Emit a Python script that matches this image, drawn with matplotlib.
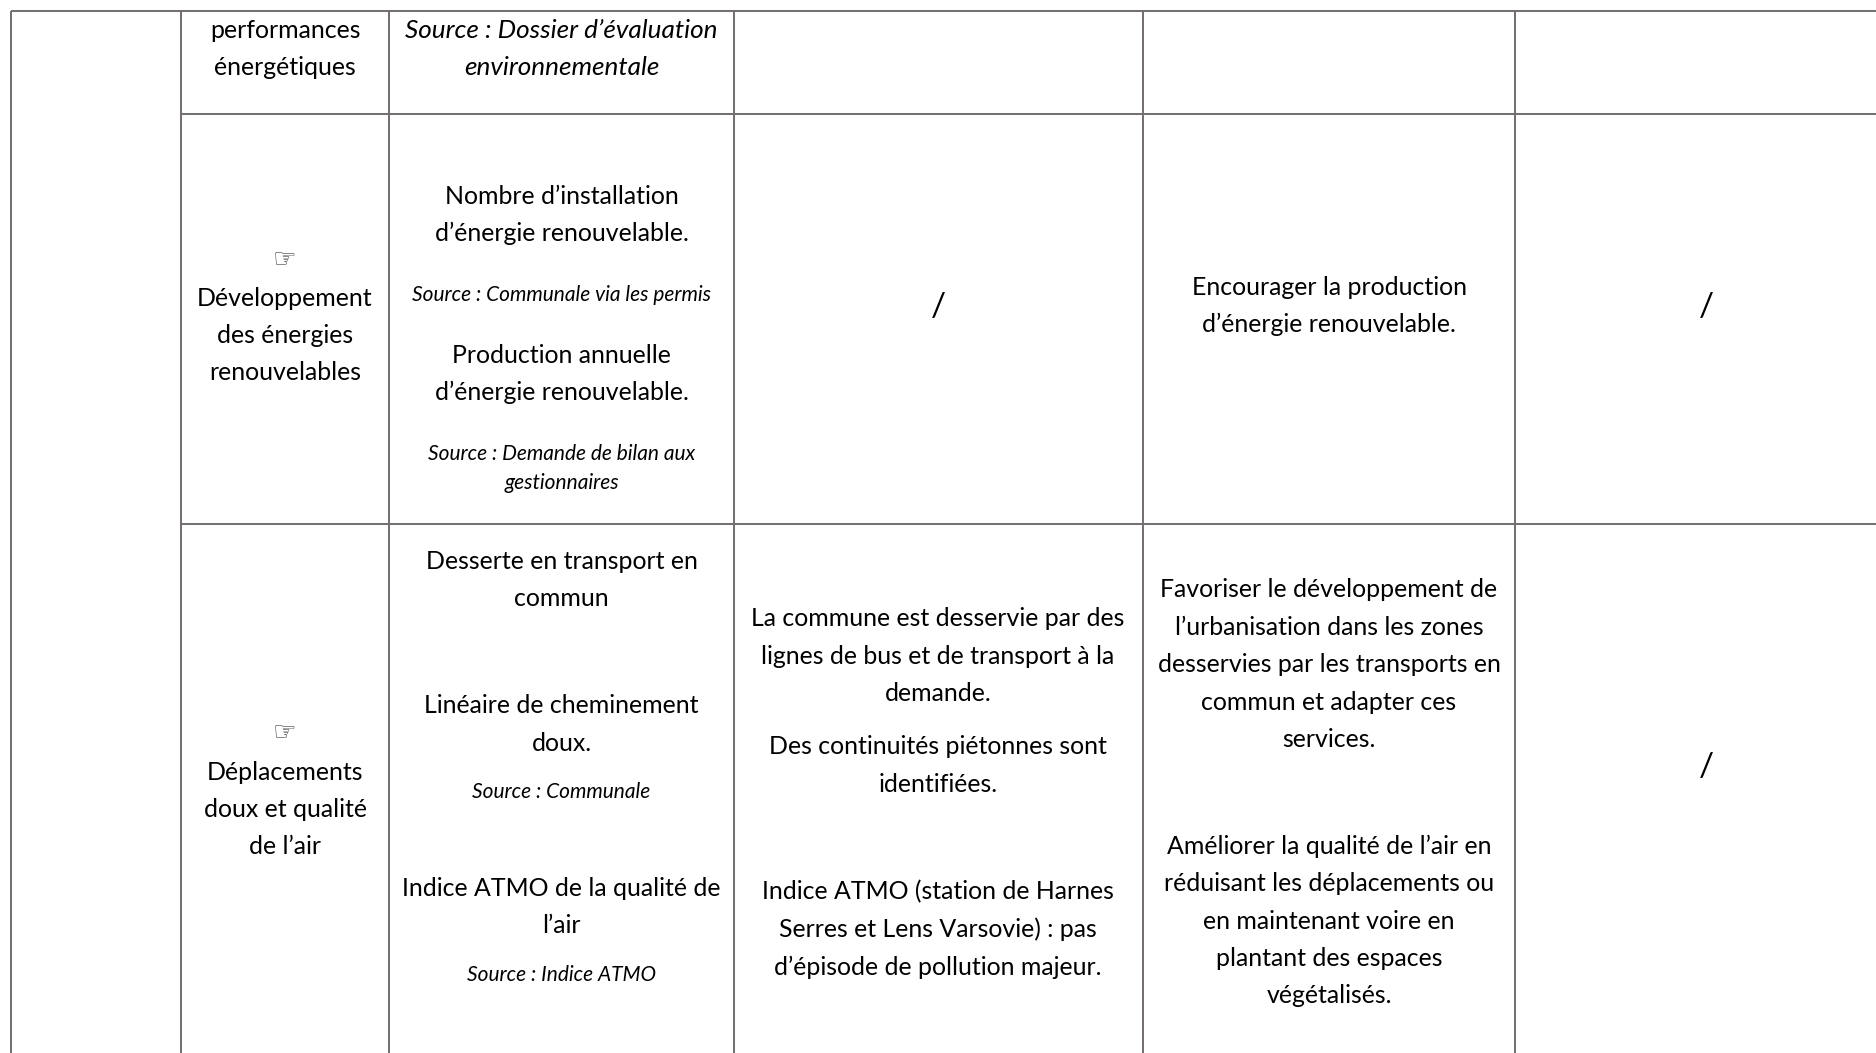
import matplotlib
matplotlib.use("Agg")
import matplotlib.pyplot as plt

W, H = 1876, 1053
S = 1876 / 1568  # shrunk reading -> full-size pixels

col_edges = [11, 181, 389, 734, 1143, 1515]
row_edges = [11, 114, 524]
row_starts = [11, 181, 181]   # where each horizontal rule starts
col_centres = [285, 561.5, 938, 1329, 1706]
LINE = "#767171"

# (text, column index, y centre in 1568-wide reading)
regular = [
    ("performances", 0, 24), ("énergétiques", 0, 55),
    ("Développement", 0, 248), ("des énergies", 0, 279), ("renouvelables", 0, 310),
    ("Déplacements", 0, 644), ("doux et qualité", 0, 675), ("de l’air", 0, 706),
    ("Nombre d’installation", 1, 163), ("d’énergie renouvelable.", 1, 194),
    ("Production annuelle", 1, 296), ("d’énergie renouvelable.", 1, 327),
    ("Desserte en transport en", 1, 468), ("commun", 1, 499),
    ("Linéaire de cheminement", 1, 588), ("doux.", 1, 620),
    ("Indice ATMO de la qualité de", 1, 741), ("l’air", 1, 772),
    ("La commune est desservie par des", 2, 516), ("lignes de bus et de transport à la", 2, 547),
    ("demande.", 2, 578), ("Des continuités piétonnes sont", 2, 623), ("identifiées.", 2, 654),
    ("Indice ATMO (station de Harnes", 2, 744), ("Serres et Lens Varsovie) : pas", 2, 775),
    ("d’épisode de pollution majeur.", 2, 807),
    ("Encourager la production", 3, 239), ("d’énergie renouvelable.", 3, 270),
    ("Favoriser le développement de", 3, 491), ("l’urbanisation dans les zones", 3, 523),
    ("desservies par les transports en", 3, 554), ("commun et adapter ces", 3, 586),
    ("services.", 3, 617),
    ("Améliorer la qualité de l’air en", 3, 706), ("réduisant les déplacements ou", 3, 737),
    ("en maintenant voire en", 3, 769), ("plantant des espaces", 3, 800), ("végétalisés.", 3, 831),
]
slashes = [("/", 2, 255), ("/", 4, 255), ("/", 4, 639)]
italic_large = [
    ("Source : Dossier d’évaluation", 1, 24), ("environnementale", 1, 55),
]
italic_small = [
    ("Source : Communale via les permis", 1, 245),
    ("Source : Demande de bilan aux", 1, 378), ("gestionnaires", 1, 402),
    ("Source : Communale", 1, 661), ("Source : Indice ATMO", 1, 814),
]
hands = [("☞", 0, 216), ("☞", 0, 611)]

FONT = "Lato"
SIZE = 17.9
LARGE_IT = 18.8
SMALL = 15.0

fig = plt.figure(figsize=(W / 100, H / 100), dpi=100, facecolor="white")
ax = fig.add_axes([0, 0, 1, 1])
ax.set_xlim(0, W)
ax.set_ylim(H, 0)
ax.axis("off")

for x in col_edges:
    ax.plot([x, x], [11, H], color=LINE, lw=1.45, solid_capstyle="butt")
for y, start in zip(row_edges, row_starts):
    ax.plot([start, W], [y, y], color=LINE, lw=1.45, solid_capstyle="butt")

def put(items, size, style="normal", family=FONT, color="black", dy=1.6):
    for txt, col, y in items:
        ax.text(col_centres[col], y * S + dy, txt, ha="center", va="center",
                fontsize=size, style=style, family=family, color=color)

put(regular, SIZE)
put(slashes, 24, dy=2)
put(italic_large, LARGE_IT, style="italic")
put(italic_small, SMALL, style="italic")
put(hands, 19, family="DejaVu Sans", color="#444444", dy=2)

fig.savefig("out.png", dpi=100, facecolor="white")
